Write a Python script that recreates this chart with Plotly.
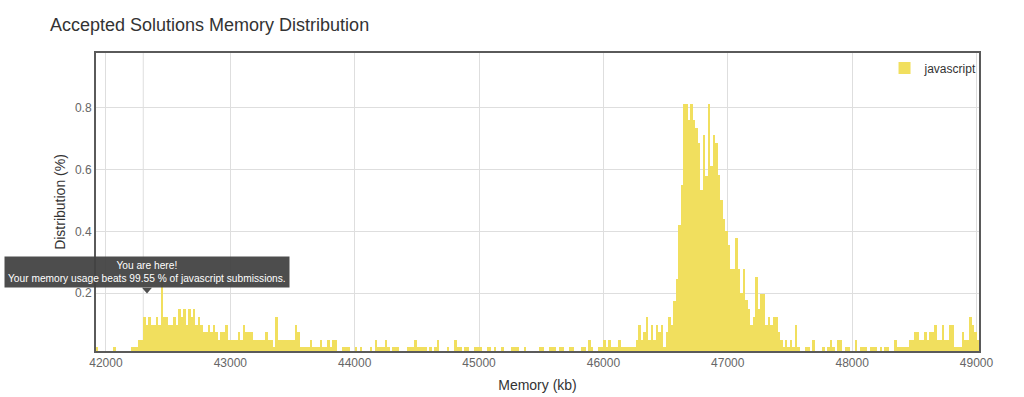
import plotly.graph_objects as go

# ---------------- data ----------------
title_text = "Accepted Solutions Memory Distribution"
language = "javascript"
bin_start_kb = 41930      # centre of first memory bin (kb)
bin_width_kb = 20         # width of each memory bin (kb)

# distribution (%) per memory bin
distribution_pct = [
    # bins 0 - 99
    0.025, 0, 0, 0, 0, 0, 0, 0.025, 0, 0,
    0, 0, 0, 0, 0.025, 0.025, 0.025, 0.049, 0.049, 0.124,
    0.099, 0.124, 0.099, 0.099, 0.124, 0.099, 0.247, 0.124, 0.124, 0.099,
    0.099, 0.124, 0.099, 0.148, 0.124, 0.148, 0.099, 0.148, 0.124, 0.148,
    0.099, 0.124, 0.099, 0.074, 0.074, 0.099, 0.074, 0.099, 0.074, 0.049,
    0.074, 0.074, 0.099, 0.049, 0.049, 0.049, 0.049, 0.074, 0.049, 0.099,
    0.074, 0.074, 0.074, 0.049, 0.049, 0.049, 0.049, 0.049, 0.074, 0.049,
    0.049, 0.025, 0.124, 0.049, 0.049, 0.049, 0.049, 0.049, 0.049, 0.049,
    0.099, 0.074, 0.025, 0.025, 0.025, 0.025, 0.049, 0.025, 0.025, 0.025,
    0.049, 0.025, 0.025, 0.049, 0.025, 0.049, 0.049, 0, 0, 0.025,
    # bins 100 - 199
    0.025, 0.025, 0, 0, 0.025, 0, 0.025, 0, 0, 0,
    0.025, 0, 0.049, 0.025, 0.025, 0.025, 0.049, 0.025, 0, 0.025,
    0.025, 0.025, 0, 0, 0, 0.025, 0.025, 0.025, 0.049, 0.025,
    0.025, 0.025, 0.025, 0, 0.025, 0, 0.025, 0.049, 0, 0,
    0, 0.025, 0, 0, 0.049, 0.025, 0.025, 0, 0.025, 0.025,
    0, 0, 0.025, 0.025, 0.025, 0, 0, 0.025, 0.025, 0,
    0.025, 0, 0, 0.025, 0, 0, 0, 0.025, 0.025, 0.025,
    0, 0, 0.025, 0, 0, 0, 0, 0, 0.025, 0.025,
    0, 0, 0.025, 0.025, 0.025, 0, 0.025, 0.025, 0, 0,
    0.025, 0.025, 0, 0, 0, 0.025, 0.025, 0, 0.049, 0.025,
    # bins 200 - 299
    0, 0, 0.025, 0.025, 0.049, 0.025, 0.049, 0.025, 0.025, 0.025,
    0.049, 0.025, 0.025, 0.025, 0.025, 0.025, 0.025, 0.049, 0.099, 0.049,
    0.074, 0.124, 0.049, 0.099, 0.049, 0.099, 0.074, 0.099, 0.025, 0.074,
    0.124, 0.099, 0.174, 0.247, 0.420, 0.550, 0.811, 0.811, 0.760, 0.811,
    0.760, 0.733, 0.685, 0.535, 0.711, 0.580, 0.811, 0.611, 0.711, 0.685,
    0.583, 0.502, 0.440, 0.400, 0.356, 0.277, 0.277, 0.378, 0.277, 0.200,
    0.277, 0.178, 0.148, 0.099, 0.124, 0.252, 0.148, 0.198, 0.198, 0.099,
    0.124, 0.099, 0.124, 0.124, 0.074, 0.049, 0.025, 0.049, 0.025, 0.049,
    0.025, 0.099, 0.025, 0, 0, 0.025, 0.025, 0, 0.049, 0,
    0, 0, 0.025, 0, 0.025, 0.049, 0.025, 0, 0.049, 0.049,
    # bins 300 - 354
    0, 0.025, 0.025, 0, 0, 0.049, 0, 0.025, 0.025, 0.025,
    0, 0.025, 0.025, 0.025, 0, 0.025, 0, 0.025, 0.025, 0,
    0, 0.049, 0.025, 0.025, 0.025, 0.025, 0.025, 0.049, 0.049, 0.074,
    0.074, 0.049, 0.049, 0.074, 0.049, 0.074, 0.074, 0.099, 0.049, 0.049,
    0.099, 0.049, 0.049, 0.099, 0.099, 0.025, 0.025, 0.025, 0.074, 0.049,
    0.049, 0.124, 0.099, 0.074, 0.049,
]

x_tick_values = [42000, 43000, 44000, 45000, 46000, 47000, 48000, 49000]
y_tick_values = [0.2, 0.4, 0.6, 0.8]
y_tick_labels = ["0.2", "0.4", "0.6", "0.8"]

your_memory_kb = 42300        # plot line position
tooltip_memory_kb = 42330     # bar the tooltip points at
tooltip_value_pct = 0.218     # height at which tooltip box sits
beats_pct = "99.55"

# ---------------- style ----------------
FONT = "Liberation Sans, Arial, Helvetica, sans-serif"
BAR_COLOR = "#f1df5e"
GRID = "#dedede"
FRAME = "#5a5a5a"
TIP_BG = "rgba(66,66,66,0.94)"

fig = go.Figure()
fig.add_trace(go.Bar(
    x0=bin_start_kb, dx=bin_width_kb, y=distribution_pct,
    name=language, showlegend=True,
    marker=dict(color=BAR_COLOR, line=dict(width=0)),
    hoverinfo="x+y",
))

# "you are here" plot line
fig.add_shape(type="line", xref="x", yref="paper",
              x0=your_memory_kb, x1=your_memory_kb, y0=0, y1=1,
              line=dict(color=GRID, width=1), layer="below")

# tooltip box
fig.add_annotation(
    x=tooltip_memory_kb, xref="x", y=tooltip_value_pct, yref="y",
    xanchor="center", yanchor="bottom", showarrow=False,
    text=f"You are here!<br>Your memory usage beats {beats_pct} % of {language} submissions.",
    font=dict(family=FONT, size=10.2, color="#ffffff"),
    bgcolor=TIP_BG, borderpad=3, align="center",
)
# tooltip pointer triangle (width 80 kb, depth 0.019 %)
half_w = 40
tip_depth = 0.019
fig.add_shape(
    type="path", xref="x", yref="y",
    path=(f"M {tooltip_memory_kb - half_w},{tooltip_value_pct} "
          f"L {tooltip_memory_kb + half_w},{tooltip_value_pct} "
          f"L {tooltip_memory_kb},{tooltip_value_pct - tip_depth} Z"),
    fillcolor=TIP_BG, line=dict(width=0), layer="above",
)

fig.update_layout(
    width=1024, height=397,
    margin=dict(l=96, r=45, t=53, b=46, autoexpand=False),
    paper_bgcolor="#ffffff", plot_bgcolor="#ffffff",
    font=dict(family=FONT, size=12, color="#333333"),
    title=dict(text=title_text, x=50 / 1024, xanchor="left", xref="container",
               y=1 - 25 / 397, yanchor="middle", yref="container",
               font=dict(family=FONT, size=18, color="#333333")),
    bargap=0.0,
    showlegend=True,
    legend=dict(x=1.004, xanchor="right", y=0.998, yanchor="top",
                bgcolor="rgba(0,0,0,0)", borderwidth=0,
                font=dict(family=FONT, size=12, color="#333333"),
                itemwidth=30),
    xaxis=dict(
        range=[41920, 49020], tickvals=x_tick_values,
        ticktext=[str(v) for v in x_tick_values],
        showgrid=True, gridcolor=GRID, gridwidth=1, zeroline=False,
        showline=True, linecolor=FRAME, linewidth=2, mirror=True,
        ticks="", tickfont=dict(family=FONT, size=12, color="#666666"),
        title=dict(text="Memory (kb)", standoff=11,
                   font=dict(family=FONT, size=14, color="#333333")),
        fixedrange=True,
    ),
    yaxis=dict(
        range=[0.0135, 0.976], tickvals=y_tick_values, ticktext=y_tick_labels,
        showgrid=True, gridcolor=GRID, gridwidth=1, zeroline=False,
        showline=True, linecolor=FRAME, linewidth=2, mirror=True,
        ticks="", tickfont=dict(family=FONT, size=12, color="#666666"),
        title=dict(text="Distribution (%)", standoff=6,
                   font=dict(family=FONT, size=14, color="#333333")),
        fixedrange=True,
    ),
)

fig.write_html("out.html")
